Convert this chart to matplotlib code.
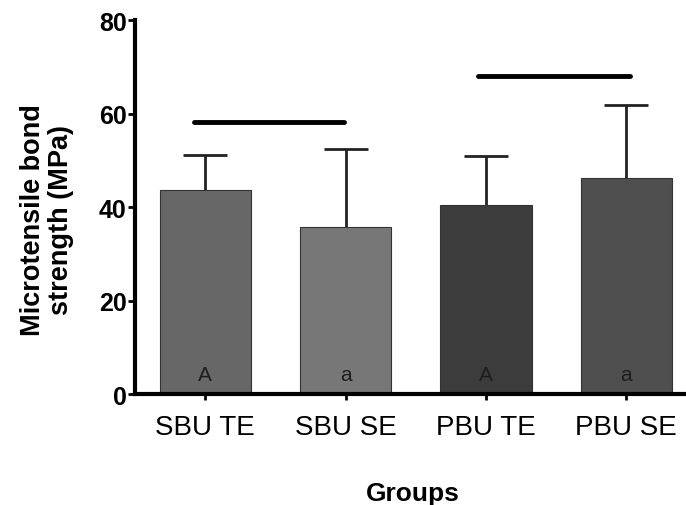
import numpy as np
import matplotlib.pyplot as plt

plt.rcParams['font.family'] = ['Liberation Sans', 'DejaVu Sans']

# data
groups = ['SBU TE', 'SBU SE', 'PBU TE', 'PBU SE']
means = [43.6, 35.8, 40.5, 46.2]
sds = [7.6, 16.6, 10.4, 15.6]
letters = ['A', 'a', 'A', 'a']
colors = ['#676767', '#777777', '#3c3c3c', '#4f4f4f']
# horizontal bars above the groups: (x start, x end, height)
brackets = [(-0.08, 0.99, 58.2), (1.94, 3.03, 68.0)]

fig = plt.figure(figsize=(6.86, 5.06), dpi=100)
ax = fig.add_axes([0.197, 0.219, 0.81, 0.739])

x = np.arange(len(groups))
ax.bar(x, means, width=0.65, color=colors, edgecolor='#333333', linewidth=0.8, zorder=2)
eb = ax.errorbar(x, means, yerr=[np.zeros(len(sds)), sds], fmt='none',
                 ecolor='#222222', elinewidth=2, capsize=16, capthick=2, zorder=1)
# only the upper caps
eb[1][0].set_visible(False)

for xi, lab in zip(x, letters):
    ax.text(xi, 4.2, lab, ha='center', va='center', fontsize=15, color='#1e1e1e')

for x0, x1, h in brackets:
    ax.plot([x0, x1], [h, h], color='black', lw=3.5, solid_capstyle='round', zorder=3)

ax.set_xlim(-0.5, 3.46)
ax.set_ylim(0, 80)
ax.set_yticks([0, 20, 40, 60, 80])
ax.set_xticks(x)
ax.set_xticklabels(groups, fontsize=20)
for t in ax.get_yticklabels():
    t.set_fontsize(18)
    t.set_fontweight('bold')

ax.spines['top'].set_visible(False)
ax.spines['right'].set_visible(False)
ax.spines['left'].set_linewidth(3)
ax.spines['bottom'].set_linewidth(3)
ax.tick_params(axis='y', length=5, width=2, pad=1)
ax.tick_params(axis='x', length=4, width=2, pad=10)

ax.set_ylabel('Microtensile bond\nstrength (MPa)', fontsize=19.5, fontweight='bold',
              linespacing=1.1)
ax.yaxis.set_label_coords(-0.11, 0.468)
ax.set_xlabel('Groups', fontsize=19, fontweight='bold', labelpad=30)

fig.savefig('out.png', dpi=100)
